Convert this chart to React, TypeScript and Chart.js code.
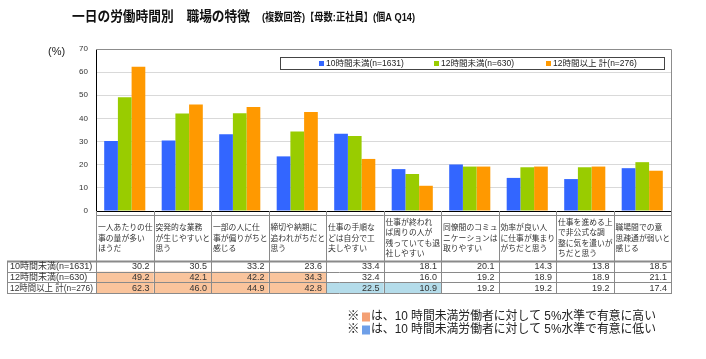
import React, { useEffect, useRef } from "react";
import { Chart, registerables } from "chart.js";

Chart.register(...registerables);

// ---- data ----
const categories: string[][] = [
  ["一人あたりの仕", "事の量が多い", "ほうだ"],
  ["突発的な業務", "が生じやすいと", "思う"],
  ["一部の人に仕", "事が偏りがちと", "感じる"],
  ["締切や納期に", "追われがちだと", "思う"],
  ["仕事の手順な", "どは自分で工", "夫しやすい"],
  ["仕事が終われ", "ば周りの人が", "残っていても退", "社しやすい"],
  ["同僚間のコミュ", "ニケーションは", "取りやすい"],
  ["効率が良い人", "に仕事が集まり", "がちだと思う"],
  ["仕事を進める上", "で非公式な調", "整に気を遣いが", "ちだと思う"],
  ["職場間での意", "思疎通が弱いと", "感じる"],
];
const seriesNames = ["10時間未満(n=1631)", "12時間未満(n=630)", "12時間以上 計(n=276)"];
const under10 = [30.2, 30.5, 33.2, 23.6, 33.4, 18.1, 20.1, 14.3, 13.8, 18.5];
const under12 = [49.2, 42.1, 42.2, 34.3, 32.4, 16.0, 19.2, 18.9, 18.9, 21.1];
const over12 = [62.3, 46.0, 44.9, 42.8, 22.5, 10.9, 19.2, 19.2, 19.2, 17.4];
// significance vs. 10h group: H = higher, L = lower
const sigUnder10 = ["", "", "", "", "", "", "", "", "", ""];
const sigUnder12 = ["H", "H", "H", "H", "", "", "", "", "", ""];
const sigOver12 = ["H", "H", "H", "H", "L", "L", "", "", "", ""];
const yMin = 0;
const yMax = 70;
const yStep = 10;
const titleMain = "一日の労働時間別　職場の特徴";
const titleSub = "(複数回答)【母数:正社員】(個A Q14)";
const notes = [
  "は、10 時間未満労働者に対して 5%水準で有意に高い",
  "は、10 時間未満労働者に対して 5%水準で有意に低い",
];

const COLORS = ["#3366FF", "#99CC00", "#FF9900"];
const FONT = "Arial, 'Liberation Sans', 'Noto Sans CJK JP', sans-serif";
const HI_FILL = "#FAC49C";
const LO_FILL = "#B4DCEA";

const tablePlugin = {
  id: "tablePlugin",
  afterDraw(chart: any) {
    const ctx: CanvasRenderingContext2D = chart.ctx;
    const area = chart.chartArea;
    const left = area.left;
    const right = area.right;
    const n = categories.length;
    const colW = (right - left) / n;
    ctx.save();

    // title
    ctx.fillStyle = "#111";
    ctx.textBaseline = "middle";
    ctx.textAlign = "left";
    ctx.font = `bold 14px ${FONT}`;
    ctx.fillText(titleMain, 72, 17, 178);
    ctx.font = `bold 11px ${FONT}`;
    ctx.fillText(titleSub, 262, 17.5, 153);

    // (%)
    ctx.font = `11px ${FONT}`;
    ctx.fillStyle = "#222";
    ctx.fillText("(%)", 48, 52);

    // plot frame top/right
    ctx.strokeStyle = "#8c8c8c";
    ctx.lineWidth = 1;
    ctx.beginPath();
    ctx.moveTo(left, area.top + 0.5);
    ctx.lineTo(right + 0.5, area.top + 0.5);
    ctx.lineTo(right + 0.5, area.bottom);
    ctx.stroke();

    // legend
    ctx.fillStyle = "#fff";
    ctx.fillRect(280, 57, 384, 12);
    ctx.strokeStyle = "#444";
    ctx.strokeRect(280.5, 57.5, 384, 12);
    const legX = [319, 434, 546];
    ctx.font = `8.5px ${FONT}`;
    seriesNames.forEach((s, i) => {
      ctx.fillStyle = COLORS[i];
      ctx.fillRect(legX[i], 61, 5, 5);
      ctx.fillStyle = "#222";
      ctx.fillText(s, legX[i] + 7, 63.8);
    });

    // table geometry
    const hdrTop = 215;
    const hdrBot = 261;
    const rowTops = [261, 271.7, 282.3];
    const tableBot = 293;
    const labelLeft = 7;
    const rows = [
      { label: seriesNames[0], vals: under10, sig: sigUnder10 },
      { label: seriesNames[1], vals: under12, sig: sigUnder12 },
      { label: seriesNames[2], vals: over12, sig: sigOver12 },
    ];

    // fills
    rows.forEach((r, ri) => {
      const top = rowTops[ri];
      const bot = ri < 2 ? rowTops[ri + 1] : tableBot;
      r.sig.forEach((s, ci) => {
        if (!s) return;
        ctx.fillStyle = s === "H" ? HI_FILL : LO_FILL;
        ctx.fillRect(left + ci * colW, top, colW, bot - top);
      });
    });

    // borders
    ctx.strokeStyle = "#8a8a8a";
    ctx.lineWidth = 1;
    ctx.beginPath();
    for (let i = 0; i <= n; i++) {
      const x = Math.round(left + i * colW) + 0.5;
      ctx.moveTo(x, area.bottom);
      ctx.lineTo(x, tableBot);
    }
    ctx.moveTo(labelLeft + 0.5, rowTops[0]);
    ctx.lineTo(labelLeft + 0.5, tableBot);
    ctx.moveTo(left, hdrTop + 0.5);
    ctx.lineTo(right, hdrTop + 0.5);
    [rowTops[1], rowTops[2], tableBot].forEach((y) => {
      const yy = Math.round(y) + 0.5;
      ctx.moveTo(labelLeft, yy);
      ctx.lineTo(right + 1, yy);
    });
    ctx.stroke();
    ctx.lineWidth = 2;
    ctx.beginPath();
    ctx.moveTo(labelLeft, hdrBot + 0.5);
    ctx.lineTo(right + 1, hdrBot + 0.5);
    ctx.stroke();

    // header text
    ctx.fillStyle = "#333";
    ctx.font = `7.8px ${FONT}`;
    ctx.textAlign = "left";
    const lh = 10.4;
    const mid = (hdrTop + hdrBot) / 2 + 0.5;
    categories.forEach((lines, ci) => {
      const x0 = left + ci * colW + 2;
      const start = mid - ((lines.length - 1) * lh) / 2;
      lines.forEach((t, li) => {
        ctx.fillText(t, x0, start + li * lh, colW - 2.5);
      });
    });

    // rows
    ctx.font = `9px ${FONT}`;
    rows.forEach((r, ri) => {
      const top = rowTops[ri];
      const bot = ri < 2 ? rowTops[ri + 1] : tableBot;
      const cy = (top + bot) / 2 + 0.5;
      ctx.textAlign = "left";
      ctx.fillStyle = "#333";
      ctx.fillText(r.label, 10, cy, left - 13);
      ctx.textAlign = "right";
      r.vals.forEach((v, ci) => {
        ctx.fillText(v.toFixed(1), left + (ci + 1) * colW - 4, cy);
      });
    });

    // notes
    ctx.textAlign = "left";
    ctx.font = `12.5px ${FONT}`;
    const noteY = [317, 330];
    notes.forEach((t, i) => {
      ctx.fillStyle = "#222";
      ctx.fillText("※", 347, noteY[i]);
      ctx.fillStyle = i === 0 ? "#F4A074" : "#6E9FE8";
      ctx.fillRect(362, noteY[i] - 4.5, 8, 9);
      ctx.fillStyle = "#222";
      ctx.fillText(t, 371, noteY[i], 285);
    });

    ctx.restore();
  },
};

export default function App() {
  const ref = useRef<HTMLCanvasElement>(null);
  useEffect(() => {
    if (!ref.current) return;
    const chart = new Chart(ref.current, {
      type: "bar",
      data: {
        labels: categories.map((c) => c.join("")),
        datasets: [
          { label: seriesNames[0], data: under10, backgroundColor: COLORS[0] },
          { label: seriesNames[1], data: under12, backgroundColor: COLORS[1] },
          { label: seriesNames[2], data: over12, backgroundColor: COLORS[2] },
        ],
      },
      options: {
        responsive: false,
        animation: false,
        devicePixelRatio: 1,
        layout: { padding: { left: 36, right: 35, top: 49, bottom: 148 } },
        datasets: { bar: { categoryPercentage: 0.715, barPercentage: 1.0 } },
        plugins: { legend: { display: false }, title: { display: false }, tooltip: { enabled: false } },
        scales: {
          x: {
            ticks: { display: false },
            grid: { display: false, drawTicks: false },
            border: { display: true, color: "#000", width: 1 },
            afterFit: (s: any) => {
              s.height = 0;
            },
          },
          y: {
            min: yMin,
            max: yMax,
            ticks: {
              stepSize: yStep,
              padding: 8,
              color: "#333",
              font: { size: 8, family: FONT },
            },
            grid: {
              drawTicks: false,
              color: (c: any) => (c.tick && c.tick.value === yMax ? "#8c8c8c" : "#d9d9d9"),
            },
            border: { display: true, color: "#000", width: 1 },
            afterFit: (s: any) => {
              s.width = 60;
            },
          },
        },
      },
      plugins: [tablePlugin],
    });
    return () => chart.destroy();
  }, []);
  return (
    <div style={{ position: "absolute", left: 0, top: 0, width: 706, height: 359, background: "#fff" }}>
      <canvas ref={ref} width={706} height={359} style={{ display: "block", width: 706, height: 359 }} />
    </div>
  );
}
